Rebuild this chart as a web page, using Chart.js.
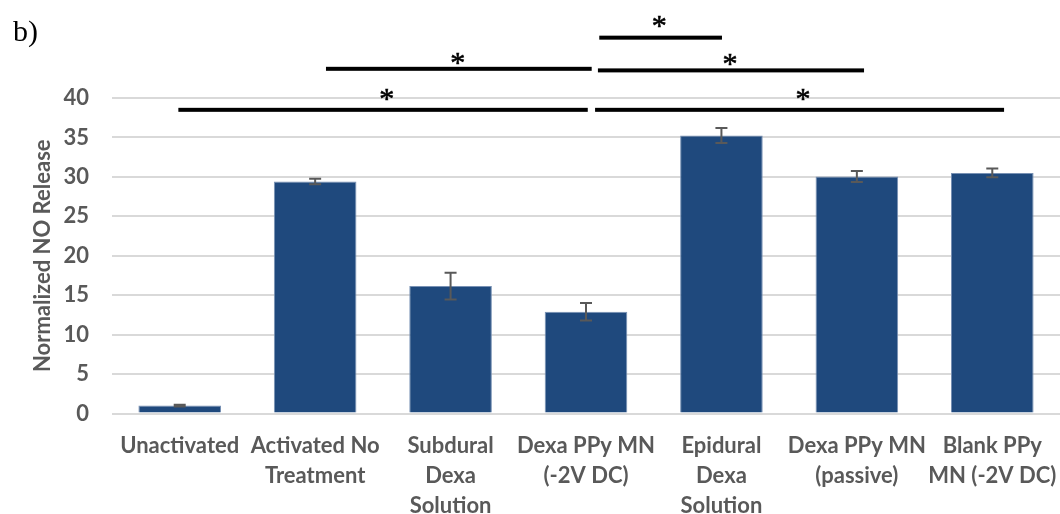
<!DOCTYPE html>
<html>
<head>
<meta charset="utf-8">
<script src="https://cdn.jsdelivr.net/npm/chart.js@4"></script>
<style>
  html, body { margin: 0; padding: 0; background: #fff; }
  #chart { display: block; }
</style>
</head>
<body>
<canvas id="chart" width="1060" height="514"></canvas>
<script>
const categories = [
    ['Unactivated'],
    ['Activated No', 'Treatment'],
    ['Subdural', 'Dexa', 'Solution'],
    ['Dexa PPy MN', '(-2V DC)'],
    ['Epidural', 'Dexa', 'Solution'],
    ['Dexa PPy MN', '(passive)'],
    ['Blank PPy', 'MN (-2V DC)']
]
const noRelease = [1.0, 29.4, 16.15, 12.9, 35.25, 30.05, 30.5]
const noError = [0.1, 0.35, 1.7, 1.1, 0.95, 0.7, 0.55]

// significance brackets, x in category index units, y in data units
const sigFrom = [-0.01, 3.067, 1.08, 3.088, 3.098]
const sigTo = [3.013, 6.087, 3.042, 5.053, 4.004]
const sigY = [38.5, 38.5, 43.7, 43.5, 47.65]
const sigStarX = [1.528, 4.602, 2.053, 4.063, 3.54]
const sigStarY = [40.5, 40.5, 45.0, 44.9, 49.7]

const gray = '#595959'
const labelFont = { family: 'Lato', size: 22, weight: 'bold' }

const errorBars = {
    id: 'errorBars',
    afterDatasetsDraw(chart) {
        const ctx = chart.ctx
        const meta = chart.getDatasetMeta(0)
        const y = chart.scales.y
        ctx.save()
        ctx.strokeStyle = gray
        ctx.lineWidth = 2
        meta.data.forEach((bar, i) => {
            const top = y.getPixelForValue(noRelease[i] + noError[i])
            const bottom = y.getPixelForValue(noRelease[i] - noError[i])
            ctx.beginPath()
            ctx.moveTo(bar.x, top)
            ctx.lineTo(bar.x, bottom)
            ctx.moveTo(bar.x - 6, top)
            ctx.lineTo(bar.x + 6, top)
            ctx.moveTo(bar.x - 6, bottom)
            ctx.lineTo(bar.x + 6, bottom)
            ctx.stroke()
        })
        ctx.restore()
    }
}

const brackets = {
    id: 'brackets',
    afterDraw(chart) {
        const ctx = chart.ctx
        const x = chart.scales.x
        const y = chart.scales.y
        ctx.save()
        ctx.fillStyle = '#000'
        sigFrom.forEach((from, i) => {
            const x1 = x.getPixelForValue(from)
            const x2 = x.getPixelForValue(sigTo[i])
            const yy = y.getPixelForValue(sigY[i])
            ctx.fillRect(x1, yy - 2, x2 - x1, 4)
        })
        ctx.font = '30px "Liberation Serif"'
        ctx.textAlign = 'center'
        ctx.textBaseline = 'middle'
        ctx.strokeStyle = '#000'
        ctx.lineWidth = 0.6
        sigStarX.forEach((sx, i) => {
            const px = x.getPixelForValue(sx)
            const py = y.getPixelForValue(sigStarY[i]) + 6
            ctx.fillText('*', px, py)
            ctx.strokeText('*', px, py)
        })
        ctx.font = '30px "Liberation Serif"'
        ctx.textAlign = 'left'
        ctx.textBaseline = 'alphabetic'
        ctx.fillText('b)', 13, 41)
        ctx.restore()
    }
}

new Chart(document.getElementById('chart'), {
    type: 'bar',
    data: {
        labels: categories,
        datasets: [{
            data: noRelease,
            backgroundColor: '#1F497D',
            borderColor: '#7891b4',
            borderWidth: 1,
            categoryPercentage: 1,
            barPercentage: 0.61
        }]
    },
    options: {
        responsive: false,
        animation: false,
        layout: { padding: { top: 98, right: 0, bottom: 0, left: 0 } },
        plugins: {
            legend: { display: false },
            tooltip: { enabled: false }
        },
        scales: {
            x: {
                grid: { display: false, drawTicks: false },
                border: { display: false },
                ticks: {
                    color: gray,
                    font: { ...labelFont, lineHeight: 30 / 22 },
                    padding: 17,
                    maxRotation: 0,
                    autoSkip: false
                },
                afterFit(axis) {
                    axis.height = 100.5
                    axis.paddingLeft = 0
                    axis.paddingRight = 0
                }
            },
            y: {
                min: 0,
                max: 40,
                grid: { color: '#d9d9d9', lineWidth: 2, drawTicks: false },
                border: { display: false },
                ticks: {
                    stepSize: 5,
                    color: gray,
                    font: labelFont,
                    padding: 23
                },
                title: {
                    display: true,
                    text: 'Normalized NO Release',
                    color: gray,
                    font: labelFont,
                    padding: { top: 30, bottom: 0 }
                },
                afterFit(axis) { axis.width = 112 }
            }
        }
    },
    plugins: [errorBars, brackets]
})
</script>
</body>
</html>
